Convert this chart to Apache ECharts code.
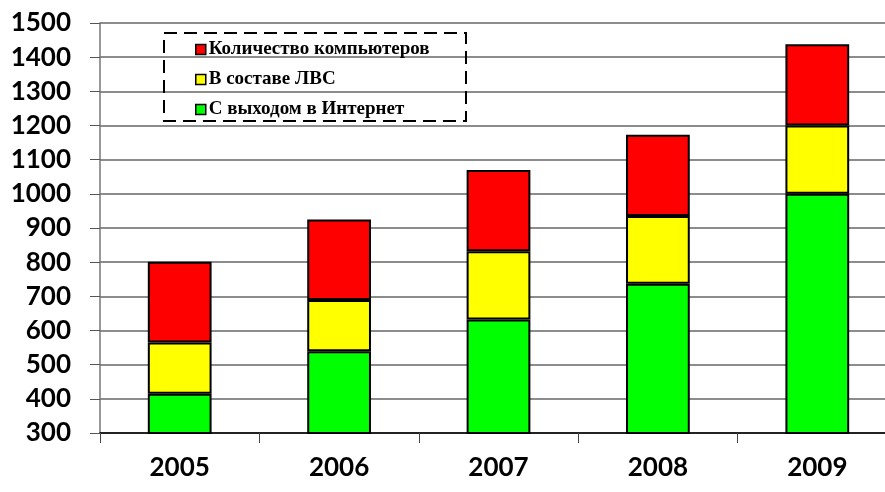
<!DOCTYPE html>
<html><head><meta charset="utf-8">
<script src="https://cdn.jsdelivr.net/npm/echarts@6/dist/echarts.min.js"></script>
<style>html,body{margin:0;padding:0;background:#fff}#c{width:885px;height:492px}</style>
</head><body><div id="c"></div>
<script>
var years = ['2005','2006','2007','2008','2009'];
var internet = [415, 539, 632, 737, 1000];   // С выходом в Интернет
var lan = [150, 150, 200, 198, 200];          // В составе ЛВС
var computers = [236, 236, 238, 238, 238];    // Количество компьютеров
var yTicks = {min: 300, max: 1500, step: 100};

var chart = echarts.init(document.getElementById('c'));
var border = {borderColor: '#000', borderWidth: 2};
chart.setOption({
  animation: false,
  grid: {left: 100, top: 23, width: 797, height: 410, containLabel: false, outerBoundsMode: 'none'},
  legend: {
    orient: 'vertical', left: 190, top: 35, itemGap: 11,
    itemWidth: 10, itemHeight: 10, icon: 'rect',
    itemStyle: {borderColor: '#000', borderWidth: 1.5},
    data: ['Количество компьютеров', 'В составе ЛВС', 'С выходом в Интернет'],
    textStyle: {fontFamily: 'Liberation Serif', fontWeight: 'bold', fontSize: 19, color: '#000', padding: [0, 0, 0, -2]}
  },
  graphic: [{
    type: 'rect', z: 100, silent: true, shape: {x: 164, y: 33, width: 302, height: 88},
    style: {fill: null, stroke: '#000', lineWidth: 2, lineDash: [13, 7]}
  }],
  xAxis: {
    type: 'category', data: years,
    axisLine: {lineStyle: {color: '#000', width: 1.5}},
    axisTick: {show: true, length: 10, lineStyle: {color: '#444'}},
    axisLabel: {margin: 22, fontFamily: 'Lato', fontWeight: 'bold', fontSize: 26, color: '#000'}
  },
  yAxis: {
    type: 'value', min: yTicks.min, max: yTicks.max, interval: yTicks.step,
    axisLine: {show: true, lineStyle: {color: '#777', width: 1.5}},
    axisTick: {show: true, length: 10, lineStyle: {color: '#555'}},
    splitLine: {lineStyle: {color: '#666', width: 1.5}},
    axisLabel: {margin: 29, fontFamily: 'Lato', fontWeight: 'bold', fontSize: 26, color: '#000',
      formatter: function (v) { return String(v); }}
  },
  series: [
    {name: 'С выходом в Интернет', type: 'bar', stack: 's', barWidth: '40%', data: internet,
     itemStyle: Object.assign({color: '#00ff00'}, border)},
    {name: 'В составе ЛВС', type: 'bar', stack: 's', data: lan,
     itemStyle: Object.assign({color: '#ffff00'}, border)},
    {name: 'Количество компьютеров', type: 'bar', stack: 's', data: computers,
     itemStyle: Object.assign({color: '#ff0000'}, border)}
  ]
});
</script></body></html>
